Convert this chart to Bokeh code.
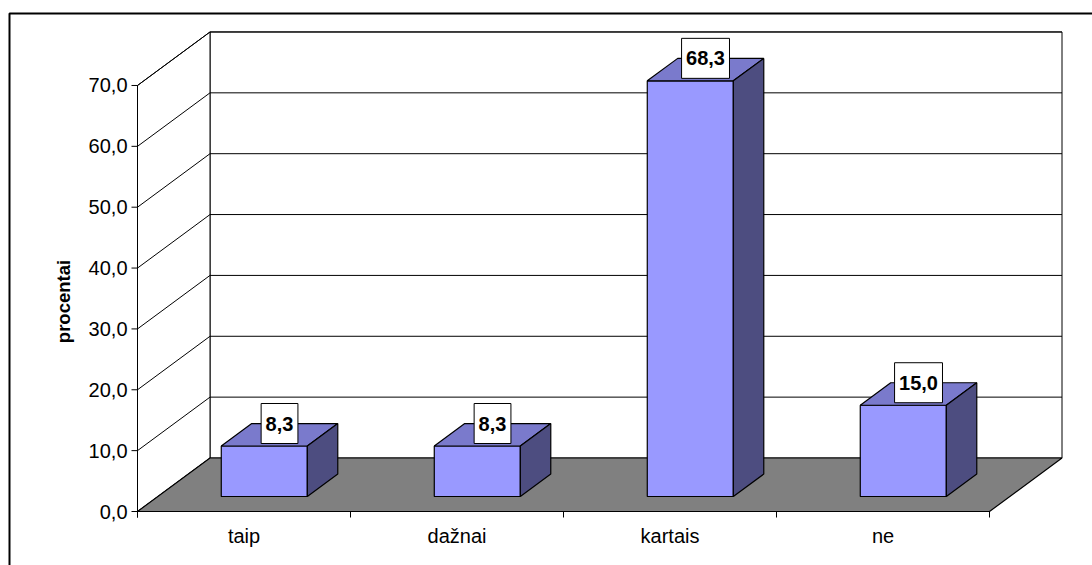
from bokeh.plotting import figure
from bokeh.models import Range1d
from bokeh.core.properties import value
from bokeh.embed import file_html
from bokeh.resources import INLINE
import math

# ---- data ----
categories = ["taip", "dažnai", "kartais", "ne"]
values = [8.3, 8.3, 68.3, 15.0]
y_ticks = [0, 10, 20, 30, 40, 50, 60, 70]
y_tick_labels = ["0,0", "10,0", "20,0", "30,0", "40,0", "50,0", "60,0", "70,0"]
value_labels = ["8,3", "8,3", "68,3", "15,0"]
y_title = "procentai"

# ---- pseudo-3D projection (screen pixels) ----
OX, OY = 137.0, 511.0      # front origin
CAT_W = 213.0              # pixels per category
VS = 6.086                 # pixels per value unit
DX, DY = 72.5, -53.5       # depth offset
VMAX = 70.0
NC = len(categories)

def P(c, v, z):
    return OX + CAT_W * c + DX * z, OY - VS * v + DY * z

W, H = 1092, 565
p = figure(width=W, height=H, x_range=Range1d(0, W), y_range=Range1d(H, 0),
           output_backend="svg", toolbar_location=None, min_border=0,
           x_axis_type=None, y_axis_type=None)
p.outline_line_color = None
p.xgrid.visible = False
p.ygrid.visible = False
p.background_fill_color = "white"
p.border_fill_color = "white"

FONT = value("Liberation Sans")

# outer chart frame
p.line([9, 9, 1095], [570, 13, 13], line_color="black", line_width=2)

# back wall
bw = [P(0, 0, 1), P(NC, 0, 1), P(NC, VMAX, 1), P(0, VMAX, 1)]
p.patch([q[0] for q in bw], [q[1] for q in bw], fill_color="white", line_color="black", line_width=1)
# left wall
lw = [P(0, 0, 0), P(0, 0, 1), P(0, VMAX, 1), P(0, VMAX, 0)]
p.patch([q[0] for q in lw], [q[1] for q in lw], fill_color="white", line_color="black", line_width=1)

# gridlines on back and left walls
gx, gy = [], []
for t in y_ticks[1:]:
    a, b, c = P(0, t, 0), P(0, t, 1), P(NC, t, 1)
    gx.append([a[0], b[0], c[0]])
    gy.append([a[1], b[1], c[1]])
p.multi_line(gx, gy, line_color="black", line_width=1)

# floor
fl = [P(0, 0, 0), P(NC, 0, 0), P(NC, 0, 1), P(0, 0, 1)]
p.patch([q[0] for q in fl], [q[1] for q in fl], fill_color="#808080", line_color="black", line_width=1.2)

# value axis line + ticks
a0, a1 = P(0, 0, 0), P(0, VMAX, 0)
p.line([a0[0], a1[0]], [a0[1] + 6, a1[1]], line_color="black", line_width=1)
tx0, ty0, tx1, ty1 = [], [], [], []
for t in y_ticks:
    x, y = P(0, t, 0)
    tx0.append(x - 6); tx1.append(x); ty0.append(y); ty1.append(y)
p.segment(tx0, ty0, tx1, ty1, line_color="black", line_width=1)
p.text([x - 4 for x in tx0], ty0, text=y_tick_labels,
       text_font=FONT, text_font_size="20px", text_align="right",
       text_baseline="middle", text_color="black")

# category ticks and labels
cx0, cy0, cy1 = [], [], []
for i in range(NC + 1):
    x, y = P(i, 0, 0)
    cx0.append(x); cy0.append(y); cy1.append(y + 6)
p.segment(cx0, cy0, cx0, cy1, line_color="black", line_width=1)
p.text([P(i + 0.5, 0, 0)[0] for i in range(NC)], [535.5] * NC, text=categories,
       text_font=FONT, text_font_size="20px", text_align="center",
       text_baseline="middle", text_color="black")

# y axis title
p.text([63], [301], text=[y_title], angle=math.pi / 2, text_font=FONT,
       text_font_size="18.5px", text_font_style="bold", text_align="center",
       text_baseline="middle", text_color="black")

# bars
HW, Z0, Z1 = 0.202, 0.28, 0.70
fronts, tops, sides = ([], []), ([], []), ([], [])
for i, v in enumerate(values):
    c0, c1 = i + 0.5 - HW, i + 0.5 + HW
    for store, pts in ((fronts, [(c0, 0, Z0), (c1, 0, Z0), (c1, v, Z0), (c0, v, Z0)]),
                       (tops, [(c0, v, Z0), (c1, v, Z0), (c1, v, Z1), (c0, v, Z1)]),
                       (sides, [(c1, 0, Z0), (c1, 0, Z1), (c1, v, Z1), (c1, v, Z0)])):
        pp = [P(*q) for q in pts]
        store[0].append([q[0] for q in pp])
        store[1].append([q[1] for q in pp])
p.patches(fronts[0], fronts[1], fill_color="#9999FF", line_color="black", line_width=1.2)
p.patches(tops[0], tops[1], fill_color="#7A7ACC", line_color="black", line_width=1.2)
p.patches(sides[0], sides[1], fill_color="#4D4D80", line_color="black", line_width=1.2)

# value labels in white boxes
def text_w(s, size=20.0):
    w = 0.0
    for ch in s:
        w += 0.278 if ch in ",." else 0.556
    return w * size

lx, ly, bl, br, bt, bb = [], [], [], [], [], []
for i, (v, s) in enumerate(zip(values, value_labels)):
    cx = P(i + 0.5, v, (Z0 + Z1) / 2)[0]
    front_top = P(i + 0.5, v, Z0)[1]
    bottom = front_top - 2.5
    top = bottom - 40
    w = text_w(s) + 9
    bl.append(cx - w / 2); br.append(cx + w / 2); bt.append(top); bb.append(bottom)
    lx.append(cx); ly.append((top + bottom) / 2)
p.quad(left=bl, right=br, top=bt, bottom=bb, fill_color="white", line_color="black", line_width=1)
p.text(lx, ly, text=value_labels, text_font=FONT, text_font_size="20px",
       text_font_style="bold", text_align="center", text_baseline="middle",
       text_color="black")

open("out.html", "w").write(file_html(p, INLINE))
